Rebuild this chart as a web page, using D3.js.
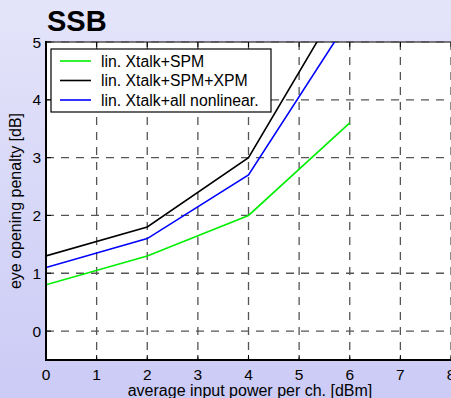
<!DOCTYPE html>
<html>
<head>
<meta charset="utf-8">
<script src="https://cdn.jsdelivr.net/npm/d3@7"></script>
<style>
  html, body { margin: 0; padding: 0; overflow: hidden; }
  svg { display: block; font-family: "Liberation Sans", Arial, sans-serif; }
</style>
</head>
<body>
<svg id="chart" width="451" height="398"></svg>
<script>
// Input power per channel [dBm]
const power = [0, 2, 4, 6];
// Eye opening penalty [dB] for each simulation case
const xtalkSpm = [0.8, 1.3, 2.0, 3.6];
const xtalkSpmXpm = [1.3, 1.8, 3.0, 5.96];
const xtalkAllNonlin = [1.1, 1.6, 2.7, 5.41];

const seriesNames = ["lin. Xtalk+SPM", "lin. Xtalk+SPM+XPM", "lin. Xtalk+all nonlinear."];
const seriesColors = ["#00ee00", "#000000", "#0000ff"];
const seriesValues = [xtalkSpm, xtalkSpmXpm, xtalkAllNonlin];

const xTicks = [0, 1, 2, 3, 4, 5, 6, 7, 8];
const yTicks = [0, 1, 2, 3, 4, 5];

const W = 451, H = 398;
const svg = d3.select("#chart");

// Lavender backdrop
const defs = svg.append("defs");
const grad = defs.append("linearGradient").attr("id", "bg")
  .attr("x1", 0).attr("y1", 0).attr("x2", 0).attr("y2", 1);
grad.append("stop").attr("offset", "0%").attr("stop-color", "#e4e4fa");
grad.append("stop").attr("offset", "100%").attr("stop-color", "#cbcbf6");
svg.append("rect").attr("width", W).attr("height", H).attr("fill", "url(#bg)");

const x = d3.scaleLinear().domain([0, 8]).range([46, 451]);
const y = d3.scaleLinear().domain([-0.5, 5]).range([360, 42]);

const plotLeft = x(0), plotTop = y(5), plotBottom = y(-0.5), plotRight = 470;

defs.append("clipPath").attr("id", "clip")
  .append("rect").attr("x", plotLeft).attr("y", plotTop)
  .attr("width", plotRight - plotLeft).attr("height", plotBottom - plotTop);

// Plot area
svg.append("rect").attr("x", plotLeft).attr("y", plotTop)
  .attr("width", plotRight - plotLeft).attr("height", plotBottom - plotTop)
  .attr("fill", "#ffffff");

// Top border
svg.append("line").attr("x1", plotLeft).attr("x2", plotRight)
  .attr("y1", plotTop).attr("y2", plotTop)
  .attr("stroke", "#000").attr("stroke-width", 1);

// Dashed grid
const grid = svg.append("g").attr("stroke", "#555").attr("stroke-width", 1.3)
  .attr("stroke-dasharray", "8,7").attr("fill", "none");
grid.selectAll("line.v").data(xTicks.filter(d => d > 0)).join("line")
  .attr("class", "v")
  .attr("x1", d => x(d)).attr("x2", d => x(d))
  .attr("y1", plotTop).attr("y2", plotBottom);
grid.selectAll("line.h").data(yTicks).join("line")
  .attr("class", "h")
  .attr("x1", plotLeft).attr("x2", plotRight)
  .attr("y1", d => y(d)).attr("y2", d => y(d));

// Inner tick marks
const tk = svg.append("g").attr("stroke", "#000").attr("stroke-width", 1);
tk.selectAll("line.bt").data(xTicks).join("line").attr("class", "bt")
  .attr("x1", d => x(d)).attr("x2", d => x(d))
  .attr("y1", plotBottom).attr("y2", plotBottom - 5);
tk.selectAll("line.tt").data(xTicks).join("line").attr("class", "tt")
  .attr("x1", d => x(d)).attr("x2", d => x(d))
  .attr("y1", plotTop).attr("y2", plotTop + 5);
tk.selectAll("line.lt").data(yTicks).join("line").attr("class", "lt")
  .attr("x1", plotLeft).attr("x2", plotLeft + 5)
  .attr("y1", d => y(d)).attr("y2", d => y(d));

// Curves
const line = d3.line().x((d, i) => x(power[i])).y(d => y(d));
const curves = svg.append("g").attr("clip-path", "url(#clip)");
seriesValues.forEach((vals, k) => {
  curves.append("path").datum(vals)
    .attr("d", line)
    .attr("fill", "none")
    .attr("stroke", seriesColors[k])
    .attr("stroke-width", 1.6);
});

// Axes lines (left and bottom)
svg.append("line").attr("x1", plotLeft).attr("x2", plotLeft)
  .attr("y1", plotTop - 1).attr("y2", plotBottom + 1)
  .attr("stroke", "#000").attr("stroke-width", 2);
svg.append("line").attr("x1", plotLeft - 1).attr("x2", plotRight)
  .attr("y1", plotBottom).attr("y2", plotBottom)
  .attr("stroke", "#000").attr("stroke-width", 2);

// Tick labels
svg.append("g").selectAll("text").data(xTicks).join("text")
  .attr("x", d => x(d)).attr("y", 380)
  .attr("text-anchor", "middle").attr("font-size", 15.5).attr("fill", "#000")
  .text(d => d);
svg.append("g").selectAll("text").data(yTicks).join("text")
  .attr("x", 41).attr("y", d => y(d) + 5.5)
  .attr("text-anchor", "end").attr("font-size", 15.5).attr("fill", "#000")
  .text(d => d);

// Axis titles
svg.append("text").attr("x", 250).attr("y", 396)
  .attr("text-anchor", "middle").attr("font-size", 16).attr("fill", "#000")
  .text("average input power per ch. [dBm]");
svg.append("text")
  .attr("transform", "translate(21,201) rotate(-90)")
  .attr("text-anchor", "middle").attr("font-size", 16).attr("fill", "#000")
  .text("eye opening penalty [dB]");

// Title
svg.append("text").attr("x", 47).attr("y", 31)
  .attr("font-size", 29).attr("font-weight", "bold").attr("fill", "#000")
  .text("SSB");

// Legend
const lg = svg.append("g");
lg.append("rect").attr("x", 51).attr("y", 49).attr("width", 220).attr("height", 63)
  .attr("fill", "#fff").attr("stroke", "#000").attr("stroke-width", 1.2);
seriesNames.forEach((name, k) => {
  const ly = 61 + k * 19.5;
  lg.append("line").attr("x1", 60).attr("x2", 91).attr("y1", ly).attr("y2", ly)
    .attr("stroke", seriesColors[k]).attr("stroke-width", 1.6);
  lg.append("text").attr("x", 101).attr("y", ly + 5.5)
    .attr("font-size", 15.8).attr("fill", "#000").text(name);
});
</script>
</body>
</html>
